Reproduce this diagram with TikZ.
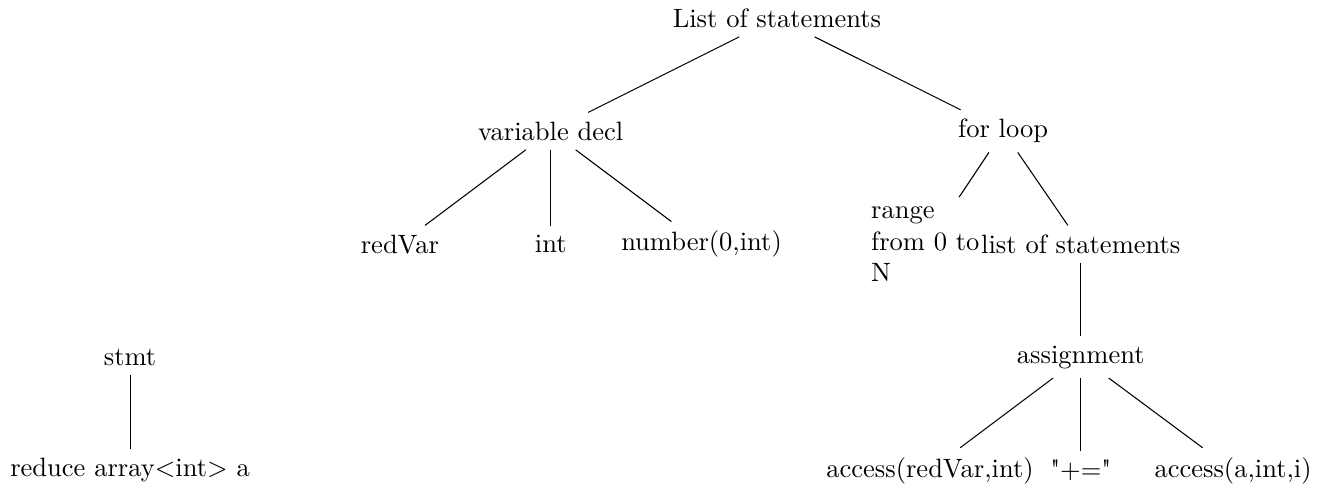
\documentclass[tikz,border=0pt]{standalone}
\begin{document}
\begin{tikzpicture}[
  treenode/.style={inner sep=0.3333em},
  edge/.style={draw=black, line width=0.4pt}
]
% fixed frame of the drawing
\useasboundingbox (-293.2pt,6.8pt) rectangle (207.2pt,-176.6pt);

% main statement list
\node[treenode] (root) at (0,0) {List of statements};
\node[treenode] (vd)   at (-3,-1.5) {variable decl};
\node[treenode] (fl)   at (3,-1.5) {for loop};

% children of the declaration
\node[treenode] (rv)   at (-5,-3) {redVar};
\node[treenode] (ty)   at (-3,-3) {int};
\node[treenode] (num)  at (-1,-3) {number(0,int)};

% children of the loop
\node[treenode, text width=1.5cm, align=left] (rng) at (2,-3) {range\\from 0 to\\N};
\node[treenode] (los)  at (4.03,-3) {list of statements};
\node[treenode] (asg)  at (4.03,-4.5) {assignment};
\node[treenode] (acc1) at (2.03,-6) {access(redVar,int)};
\node[treenode] (op)   at (4.03,-6) {\textquotedbl+=\textquotedbl};
\node[treenode] (acc2) at (6.05,-6) {access(a,int,i)};

% separate reduction statement
\node[treenode] (stmt) at (-8.58,-4.5) {stmt};
\node[treenode] (red)  at (-8.58,-6) {reduce array$<$int$>$ a};

% connectors
\draw[edge] (root) -- (vd);
\draw[edge] (root) -- (fl);
\draw[edge] (vd) -- (rv);
\draw[edge] (vd) -- (ty);
\draw[edge] (vd) -- (num);
\draw[edge] (fl) -- (rng);
\draw[edge] (fl) -- (los);
\draw[edge] (los) -- (asg);
\draw[edge] (asg) -- (acc1);
\draw[edge] (asg) -- (op);
\draw[edge] (asg) -- (acc2);
\draw[edge] (stmt) -- (red);
\end{tikzpicture}
\end{document}
